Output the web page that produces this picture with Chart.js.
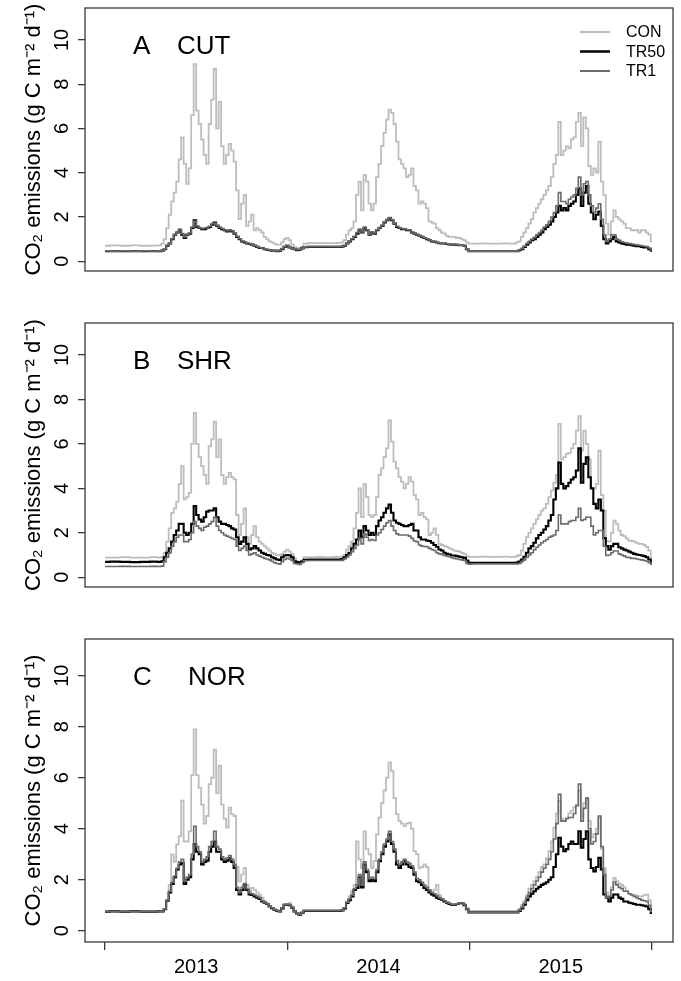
<!DOCTYPE html>
<html>
<head>
<meta charset="utf-8">
<script src="https://cdn.jsdelivr.net/npm/chart.js@4.4.0/dist/chart.umd.min.js"></script>
<style>
  body { margin: 0; background: #fff; }
  #wrap { position: relative; width: 681px; height: 981px; }
  canvas { position: absolute; left: 0; }
</style>
</head>
<body>
<div id="wrap">
  <canvas id="panelA" width="681" height="316" style="top:0px"></canvas>
  <canvas id="panelB" width="681" height="316" style="top:316px"></canvas>
  <canvas id="panelC" width="681" height="349" style="top:632px"></canvas>
</div>
<script>
const FONT = '"Liberation Sans", Arial, sans-serif';

// x = days since 1 Jan 2013 (denser sampling in the growing seasons)
const days = [
  0, 20, 40, 60, 80, 100, 110,
  115, 120, 125, 130, 135, 140, 145, 150, 155, 160,
  165, 170, 175, 180, 185, 190, 195, 200, 205, 210,
  215, 220, 225, 230, 235, 240, 245, 250, 255, 260,
  265, 270, 275, 280, 285, 290, 295, 300, 305, 310,
  315, 320, 325, 330, 335, 340, 345, 350, 355, 360,
  365, 370, 375, 380, 385, 390, 395, 400,
  410, 420, 430, 440, 450, 460, 470,
  475, 480, 485, 490, 495, 500, 505, 510, 515, 520,
  525, 530, 535, 540, 545, 550, 555, 560, 565, 570,
  575, 580, 585, 590, 595, 600, 605, 610, 615, 620,
  625, 630, 635, 640, 645, 650, 655, 660, 665, 670,
  675, 680, 685, 690, 695, 700, 705, 710, 715, 720,
  725, 730,
  740, 750, 760, 770, 780, 790, 800, 810, 820,
  825, 830, 835, 840, 845, 850, 855, 860, 865, 870,
  875, 880, 885, 890, 895, 900, 905, 910, 915, 920,
  925, 930, 935, 940, 945, 950, 955, 960, 965, 970,
  975, 980, 985, 990, 995, 1000, 1005, 1010, 1015, 1020,
  1025, 1030, 1035, 1040, 1045, 1050, 1055, 1060, 1065, 1070,
  1075, 1080, 1085, 1090, 1095
];

const yearTicks = [0, 365, 730, 1095];
const yearLabels = ['2013', '2014', '2015'];
const yTicks = [0, 2, 4, 6, 8, 10];
const seriesNames = ['CON', 'TR50', 'TR1'];

// A  CUT
const conCUT = [
  0.70, 0.72, 0.70, 0.72, 0.70, 0.71, 0.72,
  0.80, 1.00, 1.50, 2.10, 2.70, 3.10, 3.60, 4.60, 5.60, 4.40,
  3.50, 4.20, 6.60, 8.90, 6.80, 6.20, 5.50, 4.80, 4.40, 6.20,
  7.30, 8.70, 6.00, 7.20, 5.20, 4.40, 4.80, 5.30, 5.00, 4.50,
  3.20, 1.90, 2.60, 3.00, 1.60, 1.80, 2.10, 1.40, 1.50, 1.40,
  1.30, 1.10, 1.00, 0.90, 0.85, 0.80, 0.75, 0.75, 0.85, 1.00,
  1.05, 0.95, 0.75, 0.65, 0.60, 0.58, 0.65, 0.80,
  0.82, 0.82, 0.83, 0.82, 0.82, 0.82, 0.83,
  0.85, 0.95, 1.20, 1.40, 1.50, 1.80, 3.00, 3.60, 2.30, 3.90,
  3.60, 2.60, 2.30, 2.60, 3.80, 4.40, 5.20, 5.80, 6.40, 6.85,
  6.70, 6.20, 5.40, 4.60, 4.40, 4.20, 3.80, 3.90, 4.20, 3.40,
  3.20, 2.60, 2.70, 2.60, 2.40, 1.80, 1.75, 1.70, 1.50, 1.40,
  1.30, 1.25, 1.15, 1.10, 1.10, 1.10, 1.05, 1.05, 1.00, 0.95,
  0.85, 0.80,
  0.80, 0.80, 0.81, 0.80, 0.80, 0.80, 0.81, 0.80, 0.80,
  0.85, 0.90, 1.10, 1.30, 1.50, 1.70, 1.90, 2.20, 2.40, 2.60,
  2.80, 3.00, 3.20, 3.40, 3.80, 4.40, 4.80, 6.30, 4.80, 5.00,
  5.20, 5.10, 5.50, 5.60, 6.30, 6.70, 5.20, 6.50, 6.00, 4.30,
  3.90, 4.20, 4.00, 5.40, 3.60, 3.00, 1.70, 1.20, 1.80, 2.30,
  2.00, 1.90, 1.80, 1.70, 1.50, 1.50, 1.40, 1.40, 1.40, 1.30,
  1.40, 1.40, 1.30, 1.20, 0.90
];
const tr50CUT = [
  0.46, 0.46, 0.46, 0.46, 0.46, 0.46, 0.46,
  0.48, 0.55, 0.70, 0.80, 1.00, 1.20, 1.30, 1.40, 1.20, 1.05,
  1.20, 1.25, 1.50, 1.85, 1.55, 1.50, 1.45, 1.45, 1.50, 1.55,
  1.65, 1.75, 1.60, 1.50, 1.45, 1.40, 1.35, 1.40, 1.35, 1.25,
  1.10, 1.00, 0.90, 0.85, 0.80, 0.78, 0.75, 0.70, 0.65, 0.60,
  0.60, 0.55, 0.52, 0.50, 0.48, 0.48, 0.46, 0.48, 0.55, 0.65,
  0.70, 0.62, 0.58, 0.55, 0.50, 0.52, 0.58, 0.64,
  0.65, 0.65, 0.65, 0.65, 0.65, 0.65, 0.65,
  0.66, 0.70, 0.80, 0.90, 1.00, 1.10, 1.25, 1.40, 1.30, 1.50,
  1.40, 1.20, 1.30, 1.25, 1.40, 1.50, 1.60, 1.75, 1.85, 1.95,
  1.85, 1.70, 1.55, 1.50, 1.45, 1.45, 1.40, 1.40, 1.30, 1.25,
  1.20, 1.15, 1.10, 1.05, 1.00, 0.95, 0.90, 0.88, 0.85, 0.82,
  0.80, 0.80, 0.78, 0.76, 0.75, 0.75, 0.74, 0.72, 0.72, 0.70,
  0.55, 0.45,
  0.45, 0.45, 0.45, 0.45, 0.45, 0.45, 0.45, 0.45, 0.45,
  0.45, 0.50, 0.55, 0.65, 0.75, 0.85, 0.95, 1.00, 1.10, 1.20,
  1.30, 1.45, 1.55, 1.65, 1.80, 2.00, 2.20, 2.50, 2.30, 2.40,
  2.30, 2.50, 2.60, 2.70, 3.00, 3.30, 2.50, 3.10, 3.40, 2.60,
  2.20, 1.90, 2.10, 2.25, 1.60, 1.00, 0.80, 0.90, 1.00, 1.10,
  0.90, 0.85, 0.80, 0.78, 0.75, 0.75, 0.72, 0.70, 0.68, 0.68,
  0.65, 0.62, 0.62, 0.55, 0.48
];
const tr1CUT = [
  0.47, 0.46, 0.47, 0.46, 0.47, 0.46, 0.47,
  0.48, 0.56, 0.72, 0.82, 1.02, 1.22, 1.32, 1.45, 1.25, 1.10,
  1.22, 1.28, 1.55, 1.80, 1.60, 1.52, 1.48, 1.50, 1.52, 1.58,
  1.70, 1.72, 1.62, 1.55, 1.48, 1.42, 1.38, 1.42, 1.38, 1.28,
  1.12, 1.02, 0.92, 0.88, 0.82, 0.80, 0.76, 0.72, 0.66, 0.62,
  0.60, 0.56, 0.53, 0.51, 0.49, 0.48, 0.47, 0.50, 0.57, 0.66,
  0.72, 0.63, 0.59, 0.56, 0.52, 0.53, 0.59, 0.65,
  0.66, 0.66, 0.66, 0.66, 0.66, 0.66, 0.66,
  0.67, 0.72, 0.82, 0.92, 1.02, 1.12, 1.30, 1.45, 1.32, 1.55,
  1.42, 1.22, 1.32, 1.28, 1.42, 1.52, 1.62, 1.78, 1.88, 1.98,
  1.88, 1.72, 1.58, 1.52, 1.48, 1.46, 1.42, 1.42, 1.32, 1.26,
  1.22, 1.16, 1.12, 1.06, 1.02, 0.96, 0.92, 0.90, 0.86, 0.83,
  0.81, 0.81, 0.79, 0.77, 0.76, 0.76, 0.75, 0.73, 0.73, 0.71,
  0.56, 0.46,
  0.46, 0.46, 0.46, 0.46, 0.46, 0.46, 0.46, 0.46, 0.46,
  0.46, 0.52, 0.58, 0.68, 0.80, 0.90, 1.00, 1.08, 1.20, 1.30,
  1.40, 1.55, 1.65, 1.80, 2.00, 2.20, 2.50, 3.10, 2.70, 2.70,
  2.60, 2.80, 2.90, 3.00, 3.30, 3.80, 3.00, 3.50, 3.60, 3.00,
  2.50, 2.20, 2.40, 2.60, 1.90, 1.20, 0.90, 1.00, 1.20, 1.20,
  1.00, 0.95, 0.88, 0.85, 0.82, 0.80, 0.78, 0.76, 0.74, 0.72,
  0.70, 0.68, 0.66, 0.60, 0.52
];

// B  SHR
const conSHR = [
  0.88, 0.88, 0.90, 0.88, 0.88, 0.90, 0.88,
  0.92, 1.10, 1.60, 2.20, 2.90, 3.10, 3.40, 4.20, 5.00, 3.50,
  3.60, 3.80, 6.00, 7.40, 6.00, 5.40, 5.00, 4.60, 4.20, 5.90,
  6.20, 7.00, 5.40, 6.20, 4.60, 4.20, 4.50, 4.70, 4.50, 4.40,
  2.80, 1.90, 2.40, 3.10, 1.80, 1.50, 1.90, 2.30, 1.80, 1.60,
  1.50, 1.40, 1.30, 1.20, 1.10, 1.05, 1.00, 0.98, 1.05, 1.15,
  1.24, 1.15, 1.05, 0.85, 0.70, 0.65, 0.75, 0.90,
  0.90, 0.90, 0.91, 0.90, 0.90, 0.91, 0.90,
  0.92, 1.00, 1.24, 1.40, 1.60, 2.20, 2.90, 4.00, 2.70, 4.20,
  3.60, 2.80, 2.70, 2.80, 3.60, 4.60, 4.90, 5.40, 5.80, 7.06,
  6.10, 5.20, 4.90, 4.50, 4.30, 4.00, 4.20, 4.50, 4.30, 3.70,
  3.50, 2.80, 2.90, 2.70, 2.60, 1.90, 2.00, 2.20, 1.90, 1.50,
  1.45, 1.40, 1.37, 1.30, 1.25, 1.20, 1.18, 1.15, 1.10, 1.05,
  0.95, 0.92,
  0.92, 0.92, 0.93, 0.92, 0.92, 0.92, 0.93, 0.92, 0.92,
  0.95, 1.00, 1.20, 1.50, 1.80, 2.00, 2.20, 2.40, 2.60, 2.80,
  3.00, 3.10, 3.30, 3.60, 3.90, 4.25, 4.60, 6.90, 5.30, 5.40,
  5.55, 5.60, 5.80, 6.00, 6.60, 7.25, 5.70, 6.60, 6.00, 5.30,
  4.00, 4.00, 4.20, 5.70, 3.70, 3.00, 1.63, 1.60, 2.00, 2.55,
  2.40, 2.10, 1.90, 1.85, 1.75, 1.65, 1.63, 1.60, 1.55, 1.50,
  1.50, 1.45, 1.37, 1.20, 0.85
];
const tr50SHR = [
  0.69, 0.70, 0.69, 0.68, 0.69, 0.70, 0.69,
  0.72, 0.90, 1.10, 1.30, 1.60, 1.90, 2.10, 2.40, 2.40, 2.00,
  1.90, 2.00, 2.40, 3.20, 2.80, 2.60, 2.50, 2.70, 2.95, 3.00,
  3.00, 3.10, 2.70, 2.50, 2.40, 2.40, 2.35, 2.30, 2.20, 2.15,
  1.80, 1.50, 1.60, 1.80, 1.50, 1.25, 1.30, 1.40, 1.30, 1.20,
  1.10, 1.05, 1.00, 0.98, 0.90, 0.85, 0.80, 0.78, 0.90, 0.98,
  1.00, 0.98, 0.90, 0.72, 0.68, 0.65, 0.70, 0.78,
  0.80, 0.80, 0.80, 0.79, 0.80, 0.80, 0.80,
  0.82, 0.90, 1.00, 1.10, 1.30, 1.50, 1.70, 2.10, 1.80, 2.30,
  2.10, 1.90, 2.00, 1.90, 2.30, 2.55, 2.70, 2.90, 3.10, 3.27,
  2.90, 2.55, 2.45, 2.40, 2.35, 2.30, 2.30, 2.35, 2.40, 2.10,
  2.10, 1.80, 1.70, 1.70, 1.65, 1.63, 1.55, 1.45, 1.37, 1.25,
  1.20, 1.10, 1.05, 1.02, 0.98, 0.98, 0.95, 0.92, 0.90, 0.87,
  0.75, 0.65,
  0.65, 0.65, 0.65, 0.65, 0.65, 0.65, 0.65, 0.65, 0.65,
  0.66, 0.70, 0.80, 0.92, 1.10, 1.30, 1.40, 1.55, 1.75, 1.90,
  2.00, 2.15, 2.30, 2.55, 2.80, 3.50, 4.00, 5.16, 4.20, 4.00,
  4.10, 4.25, 4.40, 4.50, 4.80, 5.80, 4.25, 5.10, 5.40, 4.50,
  4.00, 3.30, 3.10, 3.50, 3.00, 1.76, 1.40, 1.24, 1.40, 1.50,
  1.50, 1.35, 1.30, 1.24, 1.20, 1.15, 1.10, 1.05, 1.02, 1.00,
  0.98, 0.95, 0.90, 0.80, 0.65
];
const tr1SHR = [
  0.48, 0.48, 0.49, 0.48, 0.48, 0.49, 0.48,
  0.50, 0.70, 0.90, 1.10, 1.40, 1.60, 1.80, 1.90, 1.90, 1.60,
  1.60, 1.70, 2.00, 2.50, 2.30, 2.20, 2.10, 2.25, 2.30, 2.40,
  2.50, 2.70, 2.30, 2.10, 2.00, 1.90, 1.85, 1.80, 1.75, 1.70,
  1.40, 1.20, 1.30, 1.40, 1.20, 1.00, 1.05, 1.10, 1.00, 0.95,
  0.90, 0.85, 0.82, 0.78, 0.72, 0.65, 0.62, 0.59, 0.70, 0.80,
  0.85, 0.82, 0.75, 0.62, 0.60, 0.58, 0.65, 0.74,
  0.75, 0.75, 0.75, 0.75, 0.75, 0.75, 0.75,
  0.76, 0.82, 0.90, 1.00, 1.15, 1.30, 1.45, 1.75, 1.50, 1.95,
  1.80, 1.65, 1.70, 1.65, 1.90, 2.00, 2.15, 2.30, 2.45, 2.55,
  2.30, 2.10, 1.95, 1.90, 1.90, 1.90, 1.90, 1.85, 1.75, 1.63,
  1.60, 1.45, 1.40, 1.38, 1.37, 1.30, 1.25, 1.20, 1.10, 1.05,
  1.02, 0.98, 0.95, 0.92, 0.88, 0.85, 0.82, 0.80, 0.78, 0.75,
  0.62, 0.59,
  0.60, 0.60, 0.60, 0.60, 0.60, 0.60, 0.60, 0.60, 0.60,
  0.60, 0.62, 0.70, 0.78, 0.90, 1.00, 1.10, 1.24, 1.35, 1.45,
  1.55, 1.63, 1.70, 1.80, 1.85, 1.90, 2.10, 2.80, 2.40, 2.40,
  2.40, 2.50, 2.55, 2.55, 2.70, 3.10, 2.55, 2.60, 2.70, 2.70,
  2.30, 1.90, 2.00, 2.10, 2.10, 1.40, 0.98, 1.00, 1.10, 1.18,
  1.18, 1.05, 1.00, 0.95, 0.90, 0.88, 0.85, 0.85, 0.82, 0.80,
  0.78, 0.75, 0.72, 0.65, 0.59
];

// C  NOR
const conNOR = [
  0.76, 0.78, 0.76, 0.77, 0.76, 0.76, 0.76,
  0.76, 0.85, 1.18, 1.80, 2.99, 2.70, 3.39, 3.70, 5.10, 3.50,
  3.50, 3.90, 6.10, 7.90, 6.10, 5.60, 4.95, 4.20, 4.50, 5.75,
  6.00, 7.10, 5.40, 6.47, 4.95, 4.40, 4.05, 4.83, 4.57, 4.50,
  2.50, 1.94, 2.20, 2.46, 1.80, 1.55, 1.68, 1.60, 1.50, 1.42,
  1.30, 1.15, 1.09, 0.98, 0.89, 0.82, 0.78, 0.76, 0.90, 1.02,
  1.05, 1.09, 0.95, 0.76, 0.68, 0.63, 0.70, 0.79,
  0.79, 0.79, 0.79, 0.79, 0.79, 0.79, 0.79,
  0.80, 0.90, 1.15, 1.35, 1.55, 1.80, 3.50, 2.80, 2.46, 3.90,
  3.20, 3.00, 2.46, 2.73, 3.78, 4.44, 5.00, 5.50, 6.00, 6.60,
  6.27, 5.20, 4.57, 4.30, 4.20, 4.10, 4.20, 4.24, 4.00, 3.12,
  3.00, 2.46, 2.50, 2.60, 2.50, 1.60, 1.42, 1.60, 1.80, 1.40,
  1.25, 1.15, 1.10, 1.05, 1.02, 1.02, 1.05, 1.08, 1.09, 1.05,
  0.90, 0.78,
  0.78, 0.78, 0.78, 0.78, 0.78, 0.78, 0.78, 0.78, 0.78,
  0.78, 0.85, 1.00, 1.15, 1.40, 1.65, 1.80, 1.95, 2.10, 2.30,
  2.50, 2.60, 2.85, 3.12, 3.50, 4.04, 4.60, 5.09, 4.40, 4.30,
  4.40, 4.60, 4.70, 4.85, 4.95, 5.50, 4.44, 5.00, 5.20, 4.30,
  3.65, 3.80, 4.00, 4.44, 3.20, 2.46, 1.50, 1.28, 1.70, 2.07,
  1.95, 1.85, 1.80, 1.70, 1.55, 1.45, 1.42, 1.40, 1.38, 1.35,
  1.35, 1.40, 1.42, 1.20, 0.76
];
const tr50NOR = [
  0.75, 0.76, 0.75, 0.76, 0.75, 0.75, 0.76,
  0.76, 0.85, 1.18, 1.50, 1.84, 2.10, 2.40, 2.60, 2.66, 1.84,
  2.00, 2.10, 2.80, 3.40, 3.10, 3.00, 2.60, 2.70, 2.75, 3.10,
  3.30, 3.50, 3.10, 3.10, 2.80, 2.70, 2.75, 2.85, 2.70, 2.46,
  1.60, 1.42, 1.60, 1.80, 1.60, 1.42, 1.40, 1.35, 1.30, 1.25,
  1.15, 1.10, 1.05, 0.95, 0.89, 0.82, 0.78, 0.76, 0.88, 1.02,
  1.02, 1.00, 0.90, 0.76, 0.68, 0.63, 0.70, 0.78,
  0.78, 0.78, 0.78, 0.78, 0.78, 0.78, 0.78,
  0.80, 0.88, 1.09, 1.20, 1.35, 1.60, 1.68, 2.10, 1.70, 2.60,
  2.30, 1.94, 2.00, 1.94, 2.30, 2.73, 3.00, 3.30, 3.50, 3.78,
  3.40, 3.10, 2.60, 2.46, 2.60, 2.73, 2.60, 2.50, 2.46, 2.20,
  1.94, 1.90, 1.80, 1.68, 1.60, 1.50, 1.42, 1.38, 1.30, 1.25,
  1.22, 1.15, 1.10, 1.05, 1.02, 1.02, 1.05, 1.08, 1.09, 1.00,
  0.85, 0.72,
  0.72, 0.72, 0.72, 0.72, 0.72, 0.72, 0.72, 0.72, 0.72,
  0.72, 0.78, 0.88, 1.02, 1.20, 1.35, 1.45, 1.55, 1.65, 1.72,
  1.80, 1.85, 1.90, 2.00, 2.10, 2.50, 3.00, 3.65, 3.30, 3.12,
  3.20, 3.40, 3.50, 3.40, 3.40, 3.90, 3.26, 3.60, 3.90, 2.80,
  2.46, 2.33, 2.50, 2.86, 2.40, 1.42, 1.30, 1.15, 1.30, 1.42,
  1.42, 1.30, 1.25, 1.15, 1.15, 1.10, 1.08, 1.05, 1.02, 1.02,
  1.00, 0.98, 0.95, 0.85, 0.70
];
const tr1NOR = [
  0.76, 0.75, 0.76, 0.75, 0.76, 0.76, 0.75,
  0.77, 0.86, 1.20, 1.55, 1.90, 2.15, 2.45, 2.70, 2.80, 1.95,
  2.10, 2.20, 3.00, 4.10, 3.30, 3.10, 2.70, 2.80, 2.90, 3.30,
  3.50, 3.90, 3.30, 3.20, 2.90, 2.80, 2.85, 2.95, 2.80, 2.60,
  1.70, 1.50, 1.70, 1.85, 1.65, 1.48, 1.45, 1.40, 1.35, 1.30,
  1.18, 1.12, 1.06, 0.96, 0.90, 0.83, 0.79, 0.77, 0.90, 1.03,
  1.04, 1.02, 0.92, 0.77, 0.69, 0.64, 0.71, 0.79,
  0.79, 0.79, 0.79, 0.79, 0.79, 0.79, 0.79,
  0.81, 0.90, 1.12, 1.25, 1.40, 1.65, 1.80, 2.20, 1.80, 2.70,
  2.40, 2.05, 2.10, 2.05, 2.40, 2.80, 3.10, 3.40, 3.60, 3.90,
  3.50, 3.20, 2.75, 2.60, 2.70, 2.80, 2.70, 2.65, 2.55, 2.30,
  2.05, 2.00, 1.90, 1.78, 1.70, 1.60, 1.50, 1.45, 1.38, 1.30,
  1.25, 1.18, 1.12, 1.08, 1.04, 1.04, 1.06, 1.09, 1.10, 1.02,
  0.86, 0.73,
  0.73, 0.73, 0.73, 0.73, 0.73, 0.73, 0.73, 0.73, 0.73,
  0.73, 0.80, 0.92, 1.08, 1.30, 1.50, 1.65, 1.80, 1.95, 2.10,
  2.30, 2.45, 2.60, 2.80, 3.10, 3.60, 4.20, 5.35, 4.30, 4.30,
  4.40, 4.44, 4.44, 4.60, 4.90, 5.75, 4.30, 4.80, 5.20, 4.00,
  3.40, 3.50, 3.80, 4.50, 3.30, 2.20, 1.30, 1.35, 1.60, 1.90,
  1.80, 1.70, 1.65, 1.55, 1.55, 1.45, 1.40, 1.35, 1.30, 1.25,
  1.20, 1.18, 1.15, 1.00, 0.76
];

const lineColors = ['#bdbdbd', '#000000', '#6b6b6b'];
const lineWidths = [1.8, 2.1, 1.6];
const boxColor = '#3a3a3a';

const panels = [
  { id: 'panelA', letter: 'A', site: 'CUT', siteX: 92, series: [conCUT, tr50CUT, tr1CUT], top: 8, bottom: 6, legend: true, xAxis: false },
  { id: 'panelB', letter: 'B', site: 'SHR', siteX: 92, series: [conSHR, tr50SHR, tr1SHR], top: 7, bottom: 6, legend: false, xAxis: false },
  { id: 'panelC', letter: 'C', site: 'NOR', siteX: 103, series: [conNOR, tr50NOR, tr1NOR], top: 7, bottom: 0, legend: false, xAxis: true }
];

// year labels sit halfway between the year boundary ticks
const yearMids = yearLabels.map((_, i) => (yearTicks[i] + yearTicks[i + 1]) / 2);
const xTickValues = yearTicks.concat(yearMids).sort((a, b) => a - b);

// frame, panel label and (top panel) legend
const panelDecor = {
  id: 'panelDecor',
  afterDatasetsDraw(chart, args, opts) {
    const { ctx, chartArea: a } = chart;
    ctx.save();
    ctx.strokeStyle = boxColor;
    ctx.lineWidth = 1.3;
    ctx.strokeRect(a.left, a.top, a.right - a.left, a.bottom - a.top);

    ctx.fillStyle = '#000';
    ctx.font = '26px ' + FONT;
    ctx.textBaseline = 'alphabetic';
    ctx.textAlign = 'left';
    ctx.fillText(opts.letter, a.left + 48, a.top + 46);
    ctx.fillText(opts.site, a.left + opts.siteX, a.top + 46);

    if (opts.legend) {
      ctx.font = '16px ' + FONT;
      ctx.textBaseline = 'middle';
      chart.data.datasets.forEach((ds, i) => {
        const y = a.top + 24 + i * 19.5;
        ctx.strokeStyle = ds.borderColor;
        ctx.lineWidth = ds.borderWidth + 0.4;
        ctx.beginPath();
        ctx.moveTo(a.right - 93, y);
        ctx.lineTo(a.right - 63, y);
        ctx.stroke();
        ctx.fillText(ds.label, a.right - 47, y + 1);
      });
    }
    ctx.restore();
  }
};

panels.forEach(p => {
  new Chart(document.getElementById(p.id), {
    type: 'line',
    data: {
      datasets: seriesNames.map((name, k) => ({
        label: name,
        data: days.map((d, i) => ({ x: d, y: p.series[k][i] })),
        borderColor: lineColors[k],
        borderWidth: lineWidths[k],
        pointRadius: 0,
        stepped: 'middle',
        order: 3 - k
      }))
    },
    options: {
      responsive: false,
      animation: false,
      devicePixelRatio: 1,
      layout: { padding: { left: 21, right: 8, top: p.top, bottom: p.bottom } },
      plugins: {
        legend: { display: false },
        tooltip: { enabled: false },
        panelDecor: { letter: p.letter, site: p.site, siteX: p.siteX, legend: p.legend }
      },
      scales: {
        x: {
          type: 'linear',
          display: p.xAxis,
          min: -40,
          max: 1137,
          afterBuildTicks: s => { s.ticks = xTickValues.map(v => ({ value: v })); },
          afterFit: s => { s.height = 39; s.paddingLeft = 0; s.paddingRight = 0; },
          grid: {
            drawOnChartArea: false,
            tickLength: 8,
            lineWidth: 1.3,
            color: c => (c.tick && yearTicks.includes(c.tick.value)) ? boxColor : 'rgba(0,0,0,0)'
          },
          border: { display: false },
          ticks: {
            autoSkip: false,
            minRotation: 0,
            maxRotation: 0,
            padding: 5,
            color: '#000',
            font: { family: FONT, size: 20 },
            callback: v => {
              const i = yearMids.indexOf(v);
              return i >= 0 ? yearLabels[i] : '';
            }
          }
        },
        y: {
          type: 'linear',
          min: -0.44,
          max: 11.44,
          afterBuildTicks: s => { s.ticks = yTicks.map(v => ({ value: v })); },
          afterFit: s => { s.width = 64; s.paddingTop = 0; s.paddingBottom = 0; },
          grid: { drawOnChartArea: false, tickLength: 7, lineWidth: 1.3, color: boxColor },
          border: { display: false },
          ticks: {
            minRotation: 90,
            maxRotation: 90,
            crossAlign: 'center',
            padding: 4,
            color: '#000',
            font: { family: FONT, size: 20 }
          },
          title: {
            display: true,
            text: 'CO₂ emissions (g C m⁻² d⁻¹)',
            color: '#000',
            font: { family: FONT, size: 22 },
            padding: { top: 0, bottom: 0 }
          }
        }
      }
    },
    plugins: [panelDecor]
  });
});
</script>
</body>
</html>
